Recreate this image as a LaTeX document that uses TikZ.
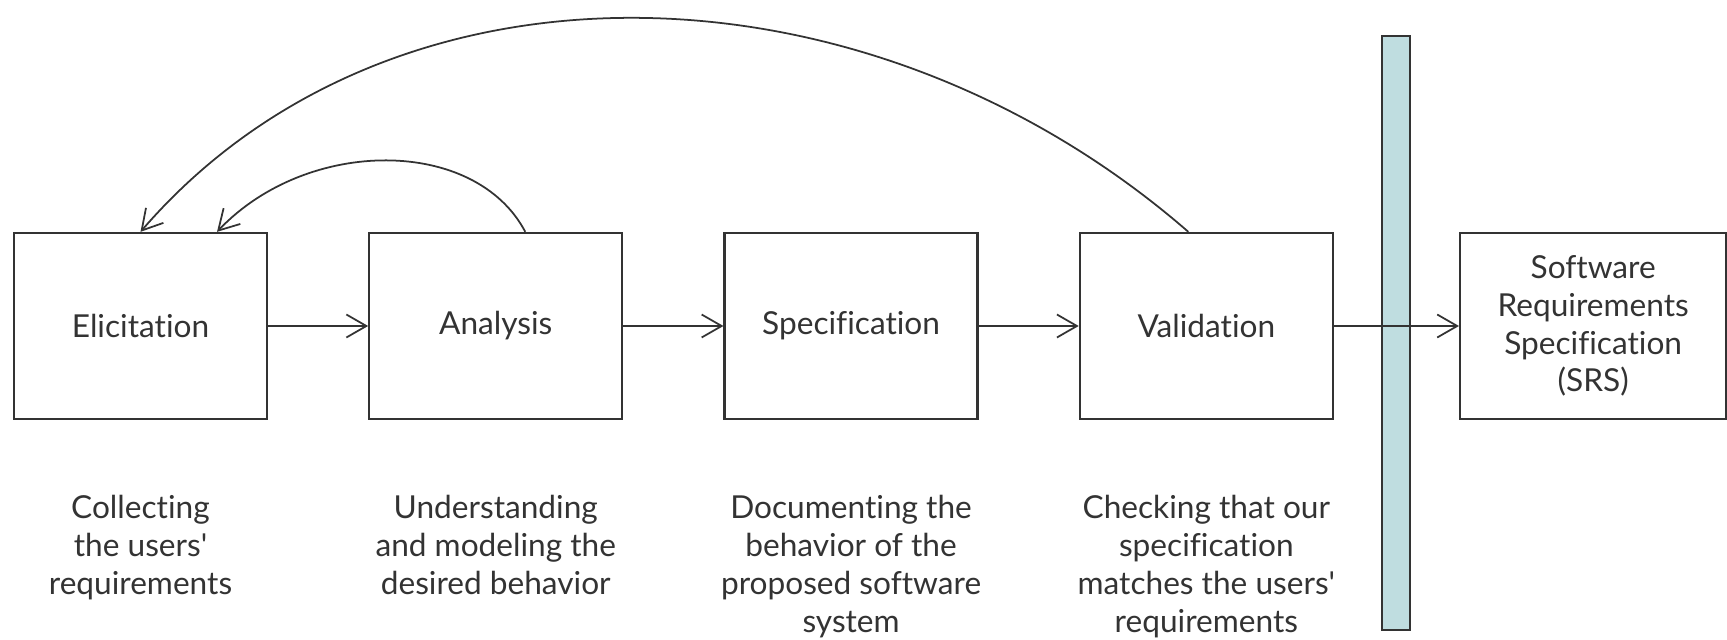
\documentclass[tikz,border=0pt]{standalone}
\usepackage{fontspec}
\setmainfont{Lato}[Ligatures={TeXOff,CommonOff}]
\usetikzlibrary{positioning,arrows.meta}
\definecolor{inkgray}{HTML}{333333}
\definecolor{gatefill}{HTML}{BFDDE0}

\begin{document}
\begin{tikzpicture}[node distance=2cm, >={Straight Barb[length=4mm,width=4.6mm]},
    stage/.style={draw=inkgray, line width=1.3pt, rectangle, minimum width=5.06cm, minimum height=3.72cm, align=center, text=inkgray, font=\fontsize{18}{21.5}\selectfont},
    note/.style={align=center, inner sep=0pt, text=inkgray, font=\fontsize{18}{21.5}\selectfont},
    gate/.style={draw=inkgray, fill=gatefill, line width=1.3pt, rectangle, inner sep=0pt, minimum width=0.56cm, minimum height=11.88cm},
    flow/.style={->, line width=1pt, draw=inkgray}]
    \useasboundingbox (0,0) rectangle (34.54,12.78);

    % process stages
    \node (elicit) [stage] at (2.81,6.26) {Elicitation};
    \node (analysis) [stage, right=of elicit] {Analysis};
    \node (spec) [stage, right=of analysis] {Specification};
    \node (valid) [stage, right=of spec] {Validation};
    \node (gate) [gate] at (27.92,6.12) {};
    \node (srs) [stage, minimum width=5.32cm, right=2.5cm of valid] {Software\\Requirements\\Specification\\(SRS)};

    % what each stage does
    \node (elicitnote) [note, below=1.5cm of elicit] {Collecting\\the users'\\requirements};
    \node (analysisnote) [note, below=1.5cm of analysis] {Understanding\\and modeling the\\desired behavior};
    \node (specnote) [note, below=1.5cm of spec] {Documenting the\\behavior of the\\proposed software\\system};
    \node (validnote) [note, below=1.5cm of valid] {Checking that our\\specification\\matches the users'\\requirements};

    \draw[flow] (elicit) -- (analysis);
    \draw[flow] (analysis) -- (spec);
    \draw[flow] (spec) -- (valid);
    \draw[flow] (valid) -- (srs);

    % feedback loops
    \draw[flow] ([xshift=-0.36cm]valid.north) .. controls +(-6.44,5.6) and +(5.0,5.8) .. (elicit.north);
    \draw[flow] ([xshift=0.59cm]analysis.north) .. controls +(-1.0,1.9) and +(1.8,1.9) .. ([xshift=1.53cm]elicit.north);
\end{tikzpicture}
\end{document}
